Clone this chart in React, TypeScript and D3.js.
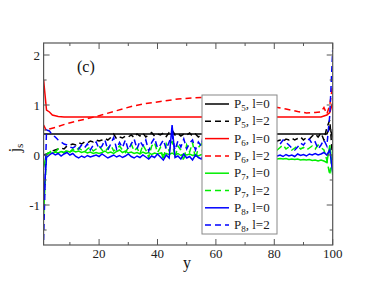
import React from "react";
import * as d3 from "d3";

const xs: number[] = d3.range(1, 101);

const p5l0X = [1, 97, 98, 99, 100];
const p5l0 = [0.42, 0.42, 0.42, 0.55, 0.35];

const p5l2 = [
  0.0, 0.02, 0.05, 0.08, 0.1, 0.12, 0.14, 0.12, 0.18, 0.2,
  0.22, 0.2, 0.25, 0.22, 0.26, 0.24, 0.28, 0.26, 0.3, 0.28,
  0.3, 0.33, 0.3, 0.35, 0.42, 0.32, 0.36, 0.34, 0.38, 0.36,
  0.4, 0.35, 0.42, 0.38, 0.44, 0.36, 0.4, 0.45, 0.38, 0.42,
  0.4, 0.44, 0.37, 0.45, 0.5, 0.4, 0.43, 0.38, 0.42, 0.4,
  0.44, 0.38, 0.42, 0.36, 0.4, 0.34, 0.36, 0.32, 0.34, 0.3,
  0.32, 0.3, 0.33, 0.3, 0.28, 0.3, 0.27, 0.3, 0.28, 0.26,
  0.28, 0.25, 0.27, 0.24, 0.26, 0.25, 0.28, 0.24, 0.26, 0.25,
  0.28, 0.3, 0.27, 0.32, 0.3, 0.34, 0.3, 0.33, 0.36, 0.3,
  0.35, 0.32, 0.38, 0.42, 0.36, 0.44, 0.3, 0.55, 0.7, -0.1,
];

const p6l0X = [1, 2, 3, 4, 6, 8, 96, 97, 98, 99, 100];
const p6l0 = [1.5, 0.9, 0.86, 0.8, 0.77, 0.76, 0.76, 0.78, 0.8, 0.85, 1.05];

const p6l2X = [1, 2, 3, 5, 9, 14, 19, 25, 31, 36, 41, 47, 52, 57, 62, 67, 72, 76, 80, 84, 88, 91, 94, 96, 97, 98, 99, 100];
const p6l2 = [0.6, 0.48, 0.52, 0.55, 0.63, 0.7, 0.77, 0.87, 0.97, 1.03, 1.07, 1.12, 1.14, 1.16, 1.14, 1.1, 1.05, 1.0, 0.96, 0.92, 0.87, 0.84, 0.85, 0.86, 0.95, 0.82, 1.0, 1.4];

const p7l0 = [
  -0.25, 0.02, 0.05, 0.03, 0.06, 0.04, 0.07, 0.05, 0.08, 0.06,
  0.09, 0.06, 0.08, 0.05, 0.07, 0.04, 0.06, 0.03, 0.05, 0.03,
  0.05, 0.08, 0.04, 0.06, 0.03, 0.07, 0.1, 0.05, 0.08, 0.04,
  0.06, 0.03, 0.05, 0.02, 0.06, 0.03, 0.05, 0.01, 0.04, 0.02,
  0.04, 0.0, 0.03, 0.01, 0.04, 0.0, 0.03, -0.01, 0.02, 0.0,
  0.02, -0.01, 0.01, -0.02, 0.01, -0.01, 0.0, -0.03, -0.01, -0.02,
  -0.03, -0.01, -0.04, -0.02, -0.04, -0.03, -0.05, -0.03, -0.05, -0.04,
  -0.05, -0.04, -0.06, -0.05, -0.06, -0.05, -0.07, -0.06, -0.07, -0.06,
  -0.08, -0.07, -0.08, -0.07, -0.09, -0.08, -0.09, -0.08, -0.1, -0.09,
  -0.1, -0.09, -0.11, -0.1, -0.12, -0.1, -0.12, -0.15, 0.2, -0.4,
];

const p7l2 = [
  -1.2, 0.0, 0.05, 0.1, 0.06, 0.12, 0.08, 0.04, 0.1, 0.06,
  0.12, 0.08, 0.14, 0.1, 0.06, 0.12, 0.16, 0.08, 0.12, 0.18,
  0.1, 0.06, 0.14, 0.2, 0.08, 0.12, 0.18, 0.1, 0.05, 0.15,
  0.22, 0.08, 0.14, 0.02, 0.2, 0.1, -0.05, 0.18, 0.25, 0.05,
  0.15, -0.1, 0.22, 0.08, 0.28, -0.05, 0.18, 0.1, -0.12, 0.2,
  0.06, 0.25, -0.08, 0.15, 0.22, -0.15, 0.12, 0.2, 0.05, 0.14,
  0.08, 0.16, 0.1, 0.04, 0.12, 0.08, 0.02, 0.1, 0.06, 0.04,
  0.06, 0.1, 0.05, 0.12, 0.08, 0.14, 0.1, 0.16, 0.12, 0.18,
  0.1, 0.15, 0.2, 0.12, 0.16, 0.1, 0.14, 0.18, 0.12, 0.15,
  0.1, 0.14, 0.18, 0.12, 0.2, 0.15, 0.1, -0.1, -0.4, 0.1,
];

const p8l0 = [
  -0.9, -0.05, 0.0, 0.04, 0.0, 0.03, -0.02, 0.02, 0.05, 0.0,
  0.03, -0.03, -0.06, -0.02, -0.05, -0.01, -0.04, -0.02, 0.0, -0.03,
  0.02, -0.02, -0.06, -0.03, 0.0, -0.04, -0.01, -0.05, -0.02, 0.02,
  -0.03, -0.06, -0.02, -0.05, 0.0, -0.04, -0.08, -0.02, -0.05, 0.02,
  -0.04, -0.1, 0.0, -0.06, 0.6, -0.05, -0.02, -0.08, 0.02, -0.06,
  -0.03, -0.1, 0.0, -0.05, -0.08, 0.03, -0.04, -0.1, -0.02, -0.06,
  -0.03, -0.07, -0.04, -0.08, -0.05, -0.1, -0.06, -0.09, -0.07, -0.08,
  -0.06, -0.08, -0.05, -0.07, -0.04, -0.06, -0.03, -0.05, -0.02, -0.04,
  -0.02, 0.0, -0.03, 0.01, -0.02, 0.0, -0.03, 0.02, -0.01, 0.01,
  -0.02, 0.02, 0.0, 0.03, 0.0, 0.02, 0.05, 0.0, 0.1, -0.35,
];

const p8l2 = [
  -1.7, 0.5, 0.48, 0.4, 0.36, 0.3, 0.26, 0.22, 0.2, 0.16,
  0.14, 0.18, 0.12, 0.2, 0.14, 0.22, 0.1, 0.2, 0.26, 0.12,
  0.18, 0.3, 0.1, 0.22, 0.35, 0.12, 0.25, 0.15, 0.3, 0.1,
  0.22, 0.32, 0.12, 0.28, 0.18, 0.3, 0.08, 0.25, 0.34, 0.14,
  0.2, 0.3, 0.12, 0.26, 0.4, 0.1, 0.28, 0.16, 0.32, 0.12,
  0.24, 0.3, 0.1, 0.26, 0.18, 0.5, 0.14, 0.22, 0.3, 0.18,
  0.25, 0.2, 0.28, 0.16, 0.24, 0.2, 0.3, 0.18, 0.22, 0.26,
  0.24, 0.18, 0.12, 0.08, 0.06, 0.1, 0.16, 0.2, 0.24, 0.2,
  0.26, 0.22, 0.3, 0.25, 0.2, 0.14, 0.1, 0.16, 0.24, 0.2,
  0.28, 0.32, 0.22, 0.26, 0.12, 0.2, 0.3, 0.18, 0.8, 2.1,
];

const xTicks = [20, 40, 60, 80, 100];
const xMinor = [10, 30, 50, 70, 90];
const yTicks = [-1, 0, 1, 2];
const yMinor = [-1.5, -0.5, 0.5, 1.5];

const seriesNames = ["5", "5", "6", "6", "7", "7", "8", "8"];
const seriesL = ["0", "2", "0", "2", "0", "2", "0", "2"];

export default function App() {
  const W = 374, H = 289;
  const left = 43.6, right = 332.7, top = 43, bottom = 245;
  const x = d3.scaleLinear().domain([1, 100]).range([left, right]);
  const y = d3.scaleLinear().domain([-1.8, 2.24]).range([bottom, top]);
  const line = d3.line<[number, number]>().x((d) => x(d[0])).y((d) => y(d[1]));
  const zip = (a: number[], b: number[]) => a.map((v, i) => [v, b[i]] as [number, number]);

  const colors = ["#000000", "#000000", "#ff0000", "#ff0000", "#00ee00", "#00ee00", "#0000ff", "#0000ff"];
  const dash = (i: number) => (i % 2 === 1 ? "6,4" : undefined);
  const data: [number, number][][] = [
    zip(p5l0X, p5l0),
    zip(xs, p5l2),
    zip(p6l0X, p6l0),
    zip(p6l2X, p6l2),
    zip(xs, p7l0),
    zip(xs, p7l2),
    zip(xs, p8l0),
    zip(xs, p8l2),
  ];

  const font = "'Liberation Serif', 'Times New Roman', serif";
  const axisColor = "#555";
  const legX = 202, legY = 95, legW = 75, legH = 139;
  const rowY = (i: number) => 104 + i * 17.3;

  return (
    <svg width={W} height={H} style={{ position: "absolute", left: 0, top: 0 }} fontFamily={font}>
      <rect width={W} height={H} fill="#fff" />
      <defs>
        <clipPath id="plot">
          <rect x={left} y={top} width={right - left} height={bottom - top} />
        </clipPath>
      </defs>
      <g clipPath="url(#plot)">
        {data.map((d, i) => (
          <path key={i} d={line(d) || ""} fill="none" stroke={colors[i]} strokeWidth={1.5} strokeDasharray={dash(i)} />
        ))}
      </g>
      <rect x={left} y={top} width={right - left} height={bottom - top} fill="none" stroke={axisColor} strokeWidth={1.2} />
      {xTicks.map((t) => (
        <g key={"xt" + t}>
          <line x1={x(t)} x2={x(t)} y1={bottom} y2={bottom - 6} stroke={axisColor} />
          <line x1={x(t)} x2={x(t)} y1={top} y2={top + 6} stroke={axisColor} />
          <text x={x(t)} y={258} fontSize={13} textAnchor="middle" fill="#222">{t}</text>
        </g>
      ))}
      {xMinor.map((t) => (
        <g key={"xm" + t}>
          <line x1={x(t)} x2={x(t)} y1={bottom} y2={bottom - 3} stroke={axisColor} />
          <line x1={x(t)} x2={x(t)} y1={top} y2={top + 3} stroke={axisColor} />
        </g>
      ))}
      {yTicks.map((t) => (
        <g key={"yt" + t}>
          <line x1={left} x2={left + 6} y1={y(t)} y2={y(t)} stroke={axisColor} />
          <line x1={right} x2={right - 6} y1={y(t)} y2={y(t)} stroke={axisColor} />
          <text x={40} y={y(t) + 4.5} fontSize={13} textAnchor="end" fill="#222">{t}</text>
        </g>
      ))}
      {yMinor.map((t) => (
        <g key={"ym" + t}>
          <line x1={left} x2={left + 3} y1={y(t)} y2={y(t)} stroke={axisColor} />
          <line x1={right} x2={right - 3} y1={y(t)} y2={y(t)} stroke={axisColor} />
        </g>
      ))}
      <text x={77} y={72} fontSize={16} fill="#111">(c)</text>
      <text x={187} y={268} fontSize={16} textAnchor="middle" fill="#111">y</text>
      <text transform="translate(20,148) rotate(-90)" fontSize={16} textAnchor="middle" fill="#111">
        j<tspan fontSize={11} dy={3}>s</tspan>
      </text>
      <rect x={legX} y={legY} width={legW} height={legH} fill="#fff" stroke="#888" strokeWidth={1} />
      {seriesNames.map((n, i) => (
        <g key={"lg" + i}>
          <line x1={205} x2={229} y1={rowY(i)} y2={rowY(i)} stroke={colors[i]} strokeWidth={1.5} strokeDasharray={dash(i)} />
          <text x={234} y={rowY(i) + 4} fontSize={13} fill="#222">
            P<tspan fontSize={9} dy={3}>{n}</tspan><tspan dy={-3}>, l={seriesL[i]}</tspan>
          </text>
        </g>
      ))}
    </svg>
  );
}
